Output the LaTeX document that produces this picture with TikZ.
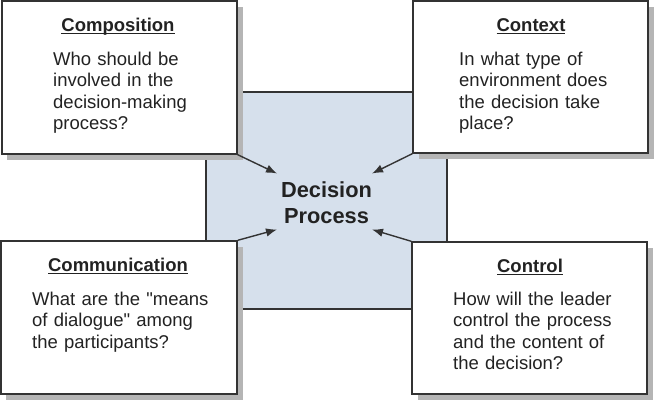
\documentclass[tikz,border=0pt]{standalone}
\usepackage{fontspec}
\setmainfont{Liberation Sans}[Ligatures=TeXOff]
\usetikzlibrary{arrows.meta,shadows}
\definecolor{boxline}{HTML}{333333}
\definecolor{cfill}{HTML}{D6E0EC}
\definecolor{shad}{HTML}{B5B5B5}
\definecolor{txt}{HTML}{222222}
\newcommand\hdul[1]{\setbox0\hbox{#1}\rlap{\color{txt}\rule[-2.8bp]{\wd0}{1.3bp}}\box0}
\begin{document}
\begin{tikzpicture}[x=1bp,y=-1bp,
  qbox/.style={draw=boxline, line width=1.4bp, fill=white, inner sep=0pt,
    drop shadow={shadow xshift=5.5bp, shadow yshift=-5.5bp, fill=shad, opacity=1}},
  cbox/.style={draw=boxline, line width=1.4bp, fill=cfill, inner sep=0pt},
  head/.style={anchor=base, inner sep=0pt, text=txt, font=\bfseries\fontsize{18.5bp}{22bp}\selectfont},
  body/.style={anchor=base west, inner sep=0pt, text=txt, text width=190bp, align=left, font=\fontsize{18.5bp}{21.6bp}\selectfont},
  dtext/.style={anchor=base, inner sep=0pt, text=txt, text width=160bp, align=center, font=\bfseries\fontsize{21.8bp}{26bp}\selectfont},
  arr/.style={draw=boxline, line width=1.4bp, -{Latex[length=11bp,width=8.5bp]}}
]
\useasboundingbox (0,0) rectangle (655,401);
% centre box
\node[cbox, minimum width=241bp, minimum height=217bp] (dp) at (326.5,200.5) {};
% four question boxes
\node[qbox, minimum width=235bp, minimum height=153bp] (comp) at (119.5,77.5) {};
\node[qbox, minimum width=235bp, minimum height=152bp] (ctx) at (530.5,77) {};
\node[qbox, minimum width=236bp, minimum height=153bp] (comm) at (119,317.5) {};
\node[qbox, minimum width=235bp, minimum height=152bp] (ctrl) at (529.5,318) {};
% texts
\node[head] (compH) at (118,31.5) {\hdul{Composition}};
\node[body] (compB) at (53,65) {Who should be\\involved in the\\decision-making\\process?};
\node[head] (ctxH) at (531,31.5) {\hdul{Context}};
\node[body] (ctxB) at (459,65) {In what type of\\environment does\\the decision take\\place?};
\node[head] (commH) at (118,271.5) {\hdul{Communication}};
\node[body] (commB) at (32,305) {What are the "means\\of dialogue" among\\the participants?};
\node[head] (ctrlH) at (530,272) {\hdul{Control}};
\node[body] (ctrlB) at (453,305) {How will the leader\\control the process\\and the content of\\the decision?};
\node[dtext] (dpT) at (326.5,197) {Decision\\Process};
% arrow ends
\coordinate (eTL) at (277,173.5);
\coordinate (eTR) at (372,173.5);
\coordinate (eBL) at (277,229.5);
\coordinate (eBR) at (372,229.5);
\draw[arr] (comp.south east) -- (eTL);
\draw[arr] (ctx.south west) -- (eTR);
\draw[arr] (comm.north east) -- (eBL);
\draw[arr] (ctrl.north west) -- (eBR);
\end{tikzpicture}
\end{document}
